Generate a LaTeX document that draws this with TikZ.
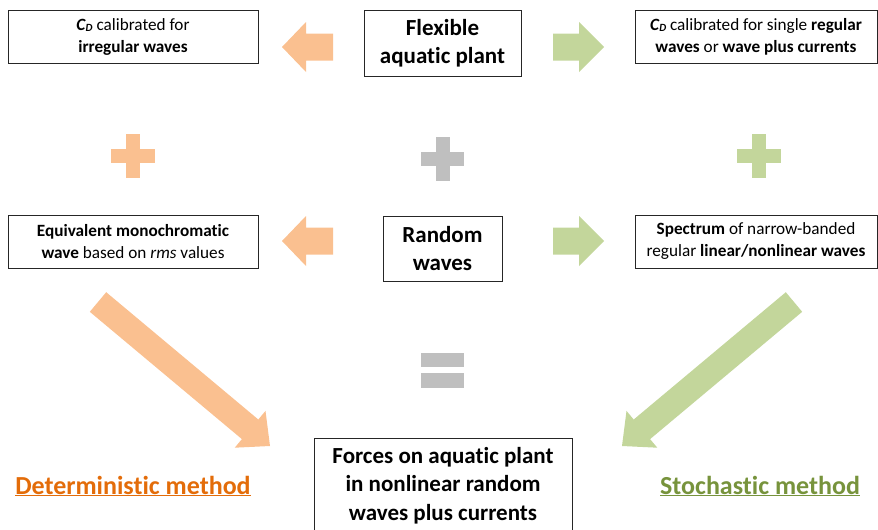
\documentclass[tikz,border=0pt]{standalone}
\usepackage{fontspec}
\setmainfont{Carlito}[Ligatures={NoCommon}]
\definecolor{orA}{HTML}{FAC090}
\definecolor{grA}{HTML}{C3D69B}
\definecolor{gyA}{HTML}{BFBFBF}
\definecolor{orT}{HTML}{E36C09}
\definecolor{grT}{HTML}{77933C}
\newcommand{\CDsym}{{\bfseries\itshape C\kern0.02em\raisebox{-0.12ex}{\fontsize{11}{11}\selectfont D}}}
\begin{document}
\begin{tikzpicture}[x=1pt,y=-1pt,
  smallbox/.style={draw=black!85, line width=0.9pt, inner sep=0pt, align=center,
    font=\fontsize{17.2}{22}\selectfont},
  bigbox/.style={draw=black!85, line width=0.9pt, inner sep=0pt, align=center,
    font=\fontsize{23}{28.5}\selectfont\bfseries},
  methodlbl/.style={inner sep=0pt, font=\fontsize{26}{28}\selectfont\bfseries},
  orfill/.style={fill=orA, draw=none},
  grfill/.style={fill=grA, draw=none},
  gyfill/.style={fill=gyA, draw=none}]
\useasboundingbox (0,0) rectangle (878,530);
% boxes
\node[smallbox, minimum width=250pt, minimum height=53pt] (tl) at (133,37)
  {\CDsym{} calibrated for\\\textbf{irregular waves}};
\node[bigbox, minimum width=157pt, minimum height=66pt] (fl) at (442.5,43)
  {Flexible\\aquatic plant};
\node[smallbox, minimum width=242pt, minimum height=53pt] (tr) at (756,37)
  {\CDsym{} calibrated for single \textbf{regular}\\\textbf{waves} or \textbf{wave plus currents}};
\node[smallbox, minimum width=250pt, minimum height=53pt] (eq) at (133,241.5)
  {\textbf{Equivalent monochromatic}\\\textbf{wave} based on \textit{rms} values};
\node[bigbox, minimum width=119pt, minimum height=65pt] (rw) at (442.5,248.5)
  {Random\\waves};
\node[smallbox, minimum width=242pt, minimum height=53pt] (sp) at (756,241.5)
  {\textbf{Spectrum} of narrow-banded\\regular \textbf{linear/nonlinear waves}};
\node[bigbox, minimum width=258pt, minimum height=94pt, anchor=north] (fo) at (443,438)
  {Forces on aquatic plant\\in nonlinear random\\waves plus currents};
% method labels
\node[methodlbl, text=orT] (det) at (133,486) {\underline{Deterministic method}};
\node[methodlbl, text=grT] (sto) at (760,486) {\underline{Stochastic method}};
% horizontal block arrows
\foreach \yc in {47,241}{
  \fill[orfill] (282,\yc) -- (306,\yc-25) -- (306,\yc-13.5) -- (333,\yc-13.5)
     -- (333,\yc+13.5) -- (306,\yc+13.5) -- (306,\yc+25) -- cycle;
  \fill[grfill] (604,\yc) -- (579,\yc-25) -- (579,\yc-13.5) -- (553,\yc-13.5)
     -- (553,\yc+13.5) -- (579,\yc+13.5) -- (579,\yc+25) -- cycle;
}
% plus signs
\fill[orfill] (111,149) rectangle (155,163);
\fill[orfill] (126,134) rectangle (140,178);
\fill[gyfill] (421,152) rectangle (464,166);
\fill[gyfill] (435.5,137) rectangle (449.5,181);
\fill[grfill] (737,149) rectangle (781,163);
\fill[grfill] (752,134) rectangle (766,178);
% equals
\fill[gyfill] (421,353) rectangle (464,367);
\fill[gyfill] (421,373) rectangle (464,388);
% diagonal block arrows
\fill[orfill] (106.2,292.2) -- (258.3,419.5) -- (265.5,410.9) -- (270,446)
  -- (234.7,447.7) -- (241.9,439.1) -- (89.8,311.8) -- cycle;
\fill[grfill] (785.8,292.2) -- (633.7,419.5) -- (626.5,410.9) -- (622,446)
  -- (657.3,447.7) -- (650.1,439.1) -- (802.2,311.8) -- cycle;
\end{tikzpicture}
\end{document}
